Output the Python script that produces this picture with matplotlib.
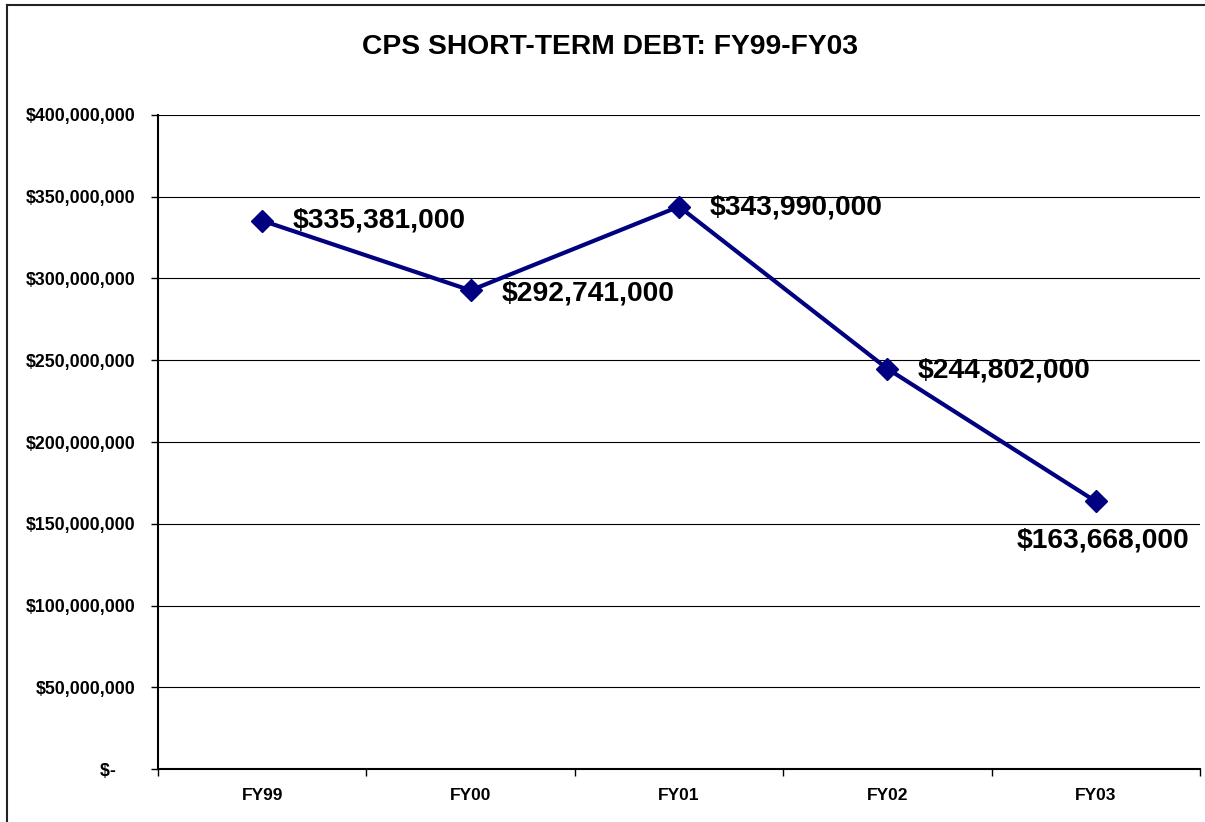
import matplotlib.pyplot as plt
from matplotlib.lines import Line2D
from matplotlib.ticker import FixedLocator

plt.rcParams['font.family'] = ['Liberation Sans', 'DejaVu Sans']
plt.rcParams['font.weight'] = 'bold'

# data
years = ['FY99', 'FY00', 'FY01', 'FY02', 'FY03']
debt = [335381000, 292741000, 343990000, 244802000, 163668000]
y_ticks = [0, 50e6, 100e6, 150e6, 200e6, 250e6, 300e6, 350e6, 400e6]


def money(v):
    if v == 0:
        return '$-    '
    return '${:,.0f}'.format(v)


fig = plt.figure(figsize=(12.05, 8.22), dpi=100)
ax = fig.add_axes([158 / 1205, 53 / 822, 1042 / 1205, 654 / 822])

x = list(range(len(years)))
ax.plot(x, debt, color='#000080', lw=3, marker='D', ms=11,
        markerfacecolor='#000080', markeredgecolor='#000080', zorder=3)

# data labels, mostly to the right of the point
offsets = [(22, 0, 'left', 'center'), (22, -2, 'left', 'center'),
           (22, -1, 'left', 'center'), (22, -1, 'left', 'center'),
           (5, -28, 'center', 'center')]
for i in range(len(x)):
    dx, dy, ha, va = offsets[i]
    ax.annotate(money(debt[i]), (x[i], debt[i]), xytext=(dx, dy),
                textcoords='offset points', ha=ha, va=va,
                fontsize=20.3, fontweight='bold', color='black')

ax.set_xlim(-0.5, len(years) - 0.5)
ax.set_ylim(0, 400e6)

ax.set_yticks(y_ticks)
ax.set_yticklabels([money(v) for v in y_ticks])
ax.yaxis.grid(True, color='black', lw=0.8)
ax.set_axisbelow(True)

ax.set_xticks(x)
ax.set_xticklabels(years)
ax.xaxis.set_minor_locator(FixedLocator([i - 0.5 for i in range(len(years) + 1)]))
ax.tick_params(axis='x', which='major', length=0, pad=14, labelsize=12.5)
ax.tick_params(axis='x', which='minor', length=5, width=1, direction='out')
ax.tick_params(axis='y', length=5, width=1, direction='out', pad=11, labelsize=12.8)
for lab in ax.get_xticklabels() + ax.get_yticklabels():
    lab.set_fontweight('bold')

for s in ['top', 'right']:
    ax.spines[s].set_visible(False)
for s in ['left', 'bottom']:
    ax.spines[s].set_linewidth(1.5)
    ax.spines[s].set_color('black')

fig.text(610 / 1205, 1 - 47 / 822, 'CPS SHORT-TERM DEBT: FY99-FY03',
         ha='center', va='center', fontsize=20.3, fontweight='bold')

# chart area border (only top and left visible in the reference)
fig.add_artist(Line2D([7 / 1205, 7 / 1205], [0, 1 - 5 / 822], color='#222222', lw=1.5))
fig.add_artist(Line2D([7 / 1205, 1], [1 - 5 / 822, 1 - 5 / 822], color='#222222', lw=1.5))

fig.savefig('out.png', dpi=100)
